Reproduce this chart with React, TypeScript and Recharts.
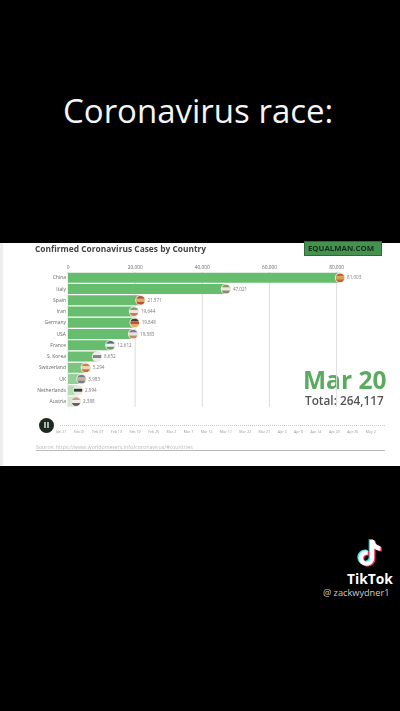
import { BarChart, Bar, XAxis, YAxis, CartesianGrid, Cell } from "recharts";

const countries = ["China", "Italy", "Spain", "Iran", "Germany", "USA", "France", "S. Korea", "Switzerland", "UK", "Netherlands", "Austria"];
const cases = [81003, 47021, 21571, 19644, 19848, 19383, 12612, 8652, 5294, 3983, 2994, 2388];
const valueLabels = ["81,003", "47,021", "21,571", "19,644", "19,848", "19,383", "12,612", "8,652", "5,294", "3,983", "2,994", "2,388"];
const barColors = ["#66bd6d", "#66bd6d", "#66bd6d", "#66bd6d", "#66bd6d", "#66bd6d", "#66bd6d", "#6cbf72", "#7cc581", "#93cf98", "#b5dcb7", "#cfe6d0"];
const flagColors = [
  ["#c0623a", "#d8a050", "#c0623a"],
  ["#7f9a6c", "#e8e8e0", "#8a8a70"],
  ["#b8503a", "#e0b060", "#b8503a"],
  ["#8aa070", "#efe6d8", "#c27a60"],
  ["#4a3a30", "#b8553c", "#e0b050"],
  ["#7a7a8a", "#e6e0de", "#c08a70"],
  ["#4f6f8c", "#f2f2f2", "#5f9a60"],
  ["#eeeeee", "#7a8a8c", "#eeeeee"],
  ["#d0804a", "#e8d8b8", "#c8703a"],
  ["#6f7f8c", "#c8b0a0", "#6f7f8c"],
  ["#e8e8e8", "#2f3f3c", "#e8e8e8"],
  ["#c8a090", "#f0eaea", "#6a5a54"],
];
const xTicks = [0, 20000, 40000, 60000, 80000];
const timelineLabels = ["Jan 21", "Feb 01", "Feb 07", "Feb 13", "Feb 19", "Feb 25", "Mar 2", "Mar 7", "Mar 12", "Mar 17", "Mar 22", "Mar 27", "Apr 2", "Apr 8", "Apr 14", "Apr 20", "Apr 26", "May 2"];

const chartData = countries.map((name, i) => ({ name, cases: cases[i] }));

// flag bubble + value at the end of each bar
function EndLabel(props: any) {
  const { x, y, width, height, index } = props;
  const cx = x + width;
  const cy = y + height / 2;
  const r = 4.4;
  const [a, b, c] = flagColors[index];
  const clipId = `flag-${index}`;
  return (
    <g>
      <circle cx={cx} cy={cy} r={r + 0.8} fill="#f4e6d8" />
      <clipPath id={clipId}>
        <circle cx={cx} cy={cy} r={r} />
      </clipPath>
      <g clipPath={`url(#${clipId})`}>
        <rect x={cx - r} y={cy - r} width={r * 2} height={r * 0.66} fill={a} />
        <rect x={cx - r} y={cy - r * 0.34} width={r * 2} height={r * 0.68} fill={b} />
        <rect x={cx - r} y={cy + r * 0.34} width={r * 2} height={r * 0.66} fill={c} />
      </g>
      <text x={cx + 7} y={cy + 1.6} fontSize={4.6} fill="#777" fontFamily="Open Sans">
        {valueLabels[index]}
      </text>
    </g>
  );
}

function TikTokNote() {
  const d = "M12 1 h4 c0.4 3.4 2.4 5.4 5.8 5.8 v4 c-2.2 0-4.1-0.7-5.8-1.9 v8.6 c0 4.2-3.3 7.5-7.3 7.5 S1.4 21.7 1.4 17.8 c0-4.4 3.9-7.9 8.5-7.2 v4.2 c-2.2-0.6-4.3 0.8-4.3 3 0 1.8 1.4 3.2 3.1 3.2 1.8 0 3.3-1.4 3.3-3.3 z";
  return (
    <svg width={27} height={30} viewBox="0 0 25 28" style={{ position: "absolute", left: 357, top: 539 }}>
      <path d={d} fill="#25e4e0" transform="translate(-1.2,-0.8)" />
      <path d={d} fill="#f0305a" transform="translate(1.2,0.8)" />
      <path d={d} fill="#ffffff" />
    </svg>
  );
}

const abs = (left: number, top: number, extra: any = {}) => ({ position: "absolute", left, top, whiteSpace: "nowrap", ...extra });

export default function App() {
  return (
    <div style={{ position: "fixed", left: 0, top: 0, width: 400, height: 711, background: "#000", overflow: "hidden", fontFamily: "Open Sans" }}>
      <div style={abs(63, 91, { color: "#f5f5f5", fontSize: 33, lineHeight: "40px", fontFamily: "Open Sans" }) as any}>Coronavirus race:</div>

      <div style={{ position: "absolute", left: 0, top: 243, width: 400, height: 223, background: "#fff", filter: "blur(0.45px)" }}>
        <div style={{ position: "absolute", left: 0, top: 0, width: 3, height: 223, background: "#eeeeee" }} />
        <div style={abs(35, 0, { fontSize: 8.4, lineHeight: "12px", fontWeight: 700, color: "#444" }) as any}>Confirmed Coronavirus Cases by Country</div>
        <div style={abs(304, -2, { width: 78, height: 15, background: "#45914e", boxSizing: "border-box", border: "1px solid #2f6a3a", color: "#14301c", fontSize: 7.8, lineHeight: "13px", fontWeight: 700, paddingLeft: 3, overflow: "hidden" }) as any}>EQUALMAN.COM</div>

        <div style={abs(303, 126, { color: "#5aaa5f", fontSize: 24.5, lineHeight: "22px", fontWeight: 700 }) as any}>Mar 20</div>
        <div style={abs(305, 150, { color: "#555", fontSize: 11.8, lineHeight: "14px", fontWeight: 600 }) as any}>Total: 264,117</div>

        <div style={{ position: "absolute", left: 39, top: 175, width: 15, height: 15, borderRadius: 8, background: "#1d2a20" }} />
        <div style={{ position: "absolute", left: 44, top: 179, width: 1.6, height: 6, background: "#aab5aa" }} />
        <div style={{ position: "absolute", left: 47.4, top: 179, width: 1.6, height: 6, background: "#aab5aa" }} />
        <div style={{ position: "absolute", left: 60, top: 182, width: 325, borderTop: "1px dotted #cccccc" }} />
        <div style={{ position: "absolute", left: 56, top: 186, width: 320, display: "flex", justifyContent: "space-between", fontSize: 3.6, lineHeight: "6px", color: "#999" }}>
          {timelineLabels.map((t) => <span key={t}>{t}</span>)}
        </div>
        <div style={abs(36, 201, { fontSize: 5.3, lineHeight: "6px", color: "#bbb" }) as any}>Source: https://www.worldometers.info/coronavirus/#countries</div>
        <div style={{ position: "absolute", left: 36, top: 207, width: 349, height: 1, background: "#bbbbbb" }} />

        <div style={{ position: "absolute", left: 0, top: 0 }}>
          <BarChart
            width={400}
            height={180}
            data={chartData}
            layout="vertical"
            margin={{ top: 19, right: 60, bottom: 16, left: 0 }}
            barCategoryGap={0.8}
          >
            <CartesianGrid horizontal={false} verticalValues={xTicks} stroke="#dddddd" strokeWidth={1} />
            <XAxis
              type="number"
              orientation="top"
              domain={[0, 80000]}
              ticks={xTicks}
              height={10}
              axisLine={false}
              tickLine={false}
              tickSize={0}
              tickMargin={3}
              tick={{ fontSize: 4.8, fill: "#666", fontFamily: "Open Sans" }}
              tickFormatter={(v: number) => v.toLocaleString("en-US")}
            />
            <YAxis
              type="category"
              dataKey="name"
              width={68}
              interval={0}
              axisLine={false}
              tickLine={false}
              tickSize={2}
              tickMargin={0}
              tick={{ fontSize: 5, fill: "#666", fontFamily: "Open Sans" }}
            />
            <Bar dataKey="cases" isAnimationActive={false} label={<EndLabel />}>
              {chartData.map((d, i) => <Cell key={d.name} fill={barColors[i]} />)}
            </Bar>
          </BarChart>
        </div>
      </div>

      <TikTokNote />
      <div style={abs(347, 570, { color: "#fff", fontSize: 13.8, lineHeight: "18px", fontWeight: 700 }) as any}>TikTok</div>
      <div style={abs(323, 587, { color: "#ccc", fontSize: 9.2, lineHeight: "12px" }) as any}>@ zackwydner1</div>
    </div>
  );
}
